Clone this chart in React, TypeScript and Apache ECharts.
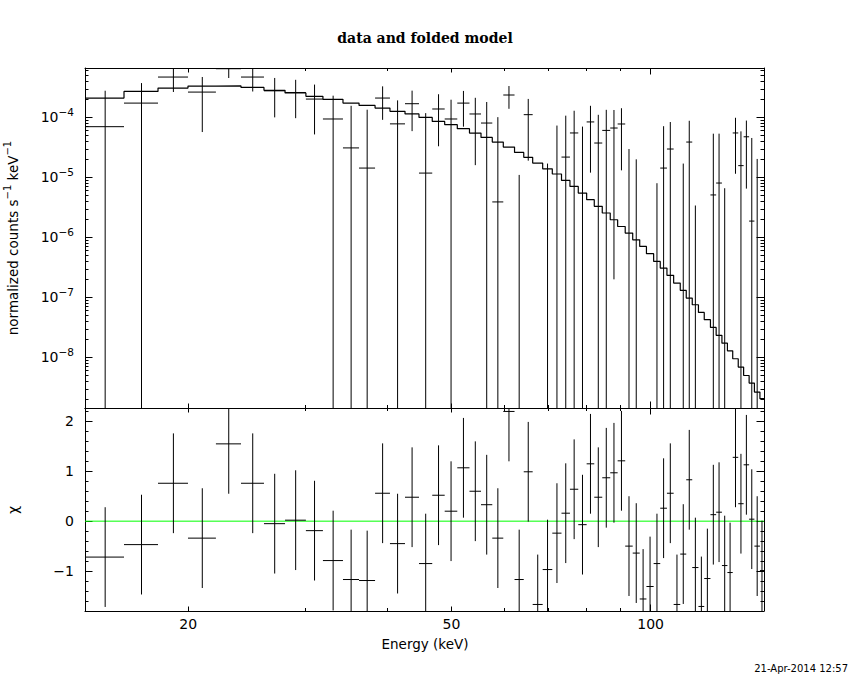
import React, { useEffect, useRef } from "react";
import * as echarts from "echarts";

// ---- data ----
// energy bin edges (keV), 59 bins
const binEdges = [
  13.96, 15.99, 18.0, 19.98, 22.02, 24.03, 26.03, 28.01, 30.12, 31.96,
  34.27, 36.24, 38.32, 40.36, 42.53, 44.65, 46.76, 48.83, 51.02, 53.23,
  55.41, 57.63, 59.88, 62.27, 64.3, 66.33, 68.68, 71.02, 73.33, 75.52,
  77.74, 80.04, 82.19, 84.51, 86.89, 89.16, 91.54, 93.96, 96.28, 98.56,
  101.06, 103.41, 105.85, 108.35, 110.87, 113.21, 115.6, 118.12, 120.53, 123.16,
  125.63, 128.18, 130.66, 133.09, 135.67, 138.24, 140.91, 143.53, 146.31, 148.4,
];

// folded model (normalized counts s^-1 keV^-1)
const modelRate = [
  2.1e-4, 2.71e-4, 3.08e-4, 3.33e-4, 3.35e-4, 3.16e-4, 2.82e-4, 2.55e-4, 2.24e-4, 2.0e-4,
  1.73e-4, 1.58e-4, 1.43e-4, 1.26e-4, 1.14e-4, 1.0e-4, 8.58e-5, 7.55e-5, 6.48e-5, 5.48e-5,
  4.64e-5, 3.88e-5, 3.2e-5, 2.61e-5, 2.16e-5, 1.73e-5, 1.39e-5, 1.14e-5, 8.9e-6, 7.08e-6,
  5.48e-6, 4.25e-6, 3.29e-6, 2.55e-6, 1.97e-6, 1.52e-6, 1.18e-6, 9.1e-7, 7.08e-7, 5.35e-7,
  3.98e-7, 3.08e-7, 2.33e-7, 1.73e-7, 1.31e-7, 9.75e-8, 7.55e-8, 5.62e-8, 4.25e-8, 3.16e-8,
  2.33e-8, 1.73e-8, 1.29e-8, 9.5e-9, 6.9e-9, 5.0e-9, 3.73e-9, 2.64e-9, 2.05e-9,
];

// data values and 1-sigma errors
const dataRate = [
  7.0e-5, 1.73e-4, 4.7e-4, 2.64e-4, 6.47e-4, 4.7e-4, 2.77e-4, 2.6e-4, 2.02e-4, 9.4e-5,
  3.1e-5, 1.43e-5, 2.1e-4, 7.8e-5, 1.69e-4, 1.18e-5, 1.38e-4, 9.4e-5, 1.73e-4, 1.14e-4,
  8.05e-5, 3.9e-6, 2.36e-4, -8.2e-5, 1.11e-4, -1.33e-4, -7.3e-5, -7.9e-6, 2.18e-5, 5.5e-5,
  -8e-7, 8.4e-5, 3.74e-5, 6.07e-5, 6.65e-5, 7.76e-5, -2.73e-5, -3.4e-5, -8.2e-5, -6.75e-5,
  -4.3e-5, 1.43e-5, 2.97e-5, -8.35e-5, -3.2e-5, 3.88e-5, -4.36e-5, -8.0e-5, -5.3e-5, 5.1e-6,
  8.05e-6, -3.84e-5, -4.53e-5, 5.5e-5, 1.57e-5, 4.75e-5, 1.87e-6, -2.0e-5, -4.0e-5,
];
const dataErr = [
  2.08e-4, 2.0e-4, 2.05e-4, 2.07e-4, 1.94e-4, 2.0e-4, 1.77e-4, 1.63e-4, 1.5e-4, 1.36e-4,
  1.25e-4, 1.2e-4, 1.19e-4, 1.14e-4, 1.1e-4, 1.06e-4, 1.05e-4, 1.03e-4, 1.03e-4, 0.98e-4,
  1.0e-4, 0.97e-4, 0.97e-4, 9.3e-5, 9.2e-5, 9.0e-5, 9.0e-5, 8.1e-5, 8.5e-5, 7.4e-5,
  7.1e-5, 7.2e-5, 7.3e-5, 7.3e-5, 6.63e-5, 6.45e-5, 5.7e-5, 5.4e-5, 5.3e-5, 5.2e-5,
  5.1e-5, 5.7e-5, 5.4e-5, 5.0e-5, 4.9e-5, 4.9e-5, 4.7e-5, 4.7e-5, 4.6e-5, 4.84e-5,
  4.55e-5, 4.5e-5, 4.4e-5, 4.35e-5, 4.28e-5, 4.1e-5, 4.35e-5, 4.03e-5, 4.0e-5,
];

// residuals (chi) with unit errors
const chiValues = [
  -0.72, -0.47, 0.76, -0.34, 1.55, 0.76, -0.05, 0.02, -0.19, -0.79,
  -1.17, -1.19, 0.56, -0.45, 0.48, -0.85, 0.52, 0.2, 1.07, 0.6,
  0.33, -0.34, 2.2, -1.17, 0.99, -1.67, -0.97, -0.24, 0.16, 0.64,
  -0.07, 1.15, 0.48, 0.87, 0.97, 1.21, -0.5, -0.64, -1.56, -1.31,
  -0.85, 0.26, 0.56, -1.67, -0.66, 0.83, -0.93, -1.71, -1.15, 0.13,
  0.18, -0.89, -1.03, 1.28, 0.35, 1.13, 0.04, -0.5, -0.99,
];
const chiErr = 1;

// axes
const xLabelTicks = [20, 50];
const xDecadeTicks = [100];
const xMinorTicks = [30, 40, 60, 70, 80, 90];
const xTickLabels = [20, 50, 100];
const yTopMajorExp = [-8, -7, -6, -5, -4];
const chiMajorTicks = [-1, 0, 1, 2];

const X_MIN = Math.log10(13.96);
const X_MAX = Math.log10(148.4);
const YT_MIN = -8.843;
const YT_MAX = -3.177;
const CHI_MIN = -1.801;
const CHI_MAX = 2.269;

const FONT = "DejaVu Sans";
const MINUS = "\u2212";

function buildOption() {
  const nb = binEdges.length - 1;
  const topCross: number[][] = [];
  const chiCross: number[][] = [];
  const modelLine: number[][] = [];
  for (let i = 0; i < nb; i++) {
    const lo = binEdges[i];
    const hi = binEdges[i + 1];
    const mid = (lo + hi) / 2;
    const d = dataRate[i];
    const e = dataErr[i];
    const up = d + e;
    const dn = d - e;
    topCross.push([
      Math.log10(lo), Math.log10(hi), Math.log10(mid),
      d > 0 ? Math.log10(d) : -99,
      dn > 0 ? Math.log10(dn) : -99,
      up > 0 ? Math.log10(up) : -99,
    ]);
    const c = chiValues[i];
    chiCross.push([Math.log10(lo), Math.log10(hi), Math.log10(mid), c, c - chiErr, c + chiErr]);
    modelLine.push([Math.log10(lo), Math.log10(modelRate[i])]);
    modelLine.push([Math.log10(hi), Math.log10(modelRate[i])]);
  }

  const minorLog: number[] = [];
  for (let n = -9; n <= -4; n++) {
    for (let k = 2; k <= 9; k++) {
      const v = n + Math.log10(k);
      if (v > YT_MIN && v < YT_MAX) minorLog.push(v);
    }
  }
  const chiMinor: number[] = [];
  for (let t = -18; t <= 22; t += 2) {
    if (t % 10 !== 0) chiMinor.push(t / 10);
  }

  const black = { color: "#000", width: 1 };
  const xAx = (grid: number, pos: string, ticks: number[], len: number, line: boolean, labels: boolean) => ({
    type: "value",
    gridIndex: grid,
    position: pos,
    min: X_MIN,
    max: X_MAX,
    axisLine: { show: line, onZero: false, lineStyle: black },
    axisTick: { show: true, inside: true, length: len, customValues: ticks.map(Math.log10), lineStyle: black },
    axisLabel: labels
      ? {
          show: true,
          customValues: xTickLabels.map(Math.log10),
          formatter: (v: number) => String(Math.round(Math.pow(10, v))),
          margin: 6,
          color: "#000",
          fontFamily: FONT,
          fontSize: 14,
        }
      : { show: false },
    splitLine: { show: false },
    minorTick: { show: false },
    silent: true,
  });
  const yAx = (grid: number, pos: string, min: number, max: number, ticks: number[], len: number, line: boolean, labels: any) => ({
    type: "value",
    gridIndex: grid,
    position: pos,
    min,
    max,
    axisLine: { show: line, onZero: false, lineStyle: black },
    axisTick: { show: true, inside: true, length: len, customValues: ticks, lineStyle: black },
    axisLabel: labels || { show: false },
    splitLine: { show: false },
    minorTick: { show: false },
    silent: true,
  });

  const xAxis: any[] = [];
  for (let g = 0; g < 2; g++) {
    xAxis.push(xAx(g, "bottom", xLabelTicks, 4.5, true, g === 1));
    xAxis.push(xAx(g, "bottom", xDecadeTicks, 6.5, false, false));
    xAxis.push(xAx(g, "bottom", xMinorTicks, 3, false, false));
    xAxis.push(xAx(g, "top", xLabelTicks, 4.5, true, false));
    xAxis.push(xAx(g, "top", xDecadeTicks, 6.5, false, false));
    xAxis.push(xAx(g, "top", xMinorTicks, 3, false, false));
  }

  const supRich = {
    b: { fontSize: 14, fontFamily: FONT, color: "#000", lineHeight: 22 },
    s: { fontSize: 10.5, fontFamily: FONT, color: "#000", lineHeight: 10, verticalAlign: "top" },
  };
  const topLabels = {
    show: true,
    customValues: yTopMajorExp,
    formatter: (v: number) => `{b|10}{s|${MINUS}${Math.abs(Math.round(v))}}`,
    margin: 11,
    color: "#000",
    fontFamily: FONT,
    fontSize: 14,
    rich: supRich,
  };
  const chiLabels = {
    show: true,
    customValues: chiMajorTicks,
    formatter: (v: number) => (v < 0 ? MINUS + Math.abs(v) : String(v)),
    margin: 11,
    color: "#000",
    fontFamily: FONT,
    fontSize: 14,
  };
  const yAxis: any[] = [
    yAx(0, "left", YT_MIN, YT_MAX, yTopMajorExp, 7.5, true, topLabels),
    yAx(0, "left", YT_MIN, YT_MAX, minorLog, 3.5, false, null),
    yAx(0, "right", YT_MIN, YT_MAX, yTopMajorExp, 7.5, true, null),
    yAx(0, "right", YT_MIN, YT_MAX, minorLog, 3.5, false, null),
    yAx(1, "left", CHI_MIN, CHI_MAX, chiMajorTicks, 7.5, true, chiLabels),
    yAx(1, "left", CHI_MIN, CHI_MAX, chiMinor, 3.5, false, null),
    yAx(1, "right", CHI_MIN, CHI_MAX, chiMajorTicks, 7.5, true, null),
    yAx(1, "right", CHI_MIN, CHI_MAX, chiMinor, 3.5, false, null),
  ];

  const crossRenderer = (ymin: number, ymax: number) => (params: any, api: any) => {
    const xl = api.value(0);
    const xh = api.value(1);
    const xc = api.value(2);
    const yv = api.value(3);
    const yl = api.value(4);
    const yh = api.value(5);
    const cl = (v: number) => Math.min(Math.max(v, ymin), ymax);
    const style = { stroke: "#000", lineWidth: 1, fill: null };
    const children: any[] = [];
    if (yh > ymin) {
      const a = api.coord([xc, cl(yh)]);
      const b = api.coord([xc, cl(yl)]);
      children.push({ type: "line", shape: { x1: a[0], y1: a[1], x2: b[0], y2: b[1] }, style });
    }
    if (yv > ymin && yv < ymax) {
      const a = api.coord([xl, yv]);
      const b = api.coord([xh, yv]);
      children.push({ type: "line", shape: { x1: a[0], y1: a[1], x2: b[0], y2: b[1] }, style });
    }
    return { type: "group", children };
  };

  const series: any[] = [
    {
      type: "line",
      xAxisIndex: 0,
      yAxisIndex: 0,
      data: modelLine,
      showSymbol: false,
      symbol: "none",
      lineStyle: { color: "#000", width: 1.2 },
      silent: true,
      clip: true,
      z: 3,
    },
    {
      type: "custom",
      xAxisIndex: 0,
      yAxisIndex: 0,
      data: topCross,
      encode: { x: [0, 1, 2], y: [3, 4, 5] },
      renderItem: crossRenderer(YT_MIN, YT_MAX),
      silent: true,
      z: 4,
    },
    {
      type: "line",
      xAxisIndex: 6,
      yAxisIndex: 4,
      data: [[X_MIN, 0], [X_MAX, 0]],
      showSymbol: false,
      symbol: "none",
      lineStyle: { color: "#00ff00", width: 1 },
      silent: true,
      z: 2,
    },
    {
      type: "custom",
      xAxisIndex: 6,
      yAxisIndex: 4,
      data: chiCross,
      encode: { x: [0, 1, 2], y: [3, 4, 5] },
      renderItem: crossRenderer(CHI_MIN, CHI_MAX),
      silent: true,
      z: 4,
    },
  ];

  const txt = (x: number, y: number, text: string, font: string, align: string, rot = 0, rich?: any) => ({
    type: "text",
    x,
    y,
    rotation: rot,
    silent: true,
    style: {
      text,
      font,
      fill: "#000",
      align,
      verticalAlign: "middle",
      textAlign: align,
      textVerticalAlign: "middle",
      ...(rich ? { rich } : {}),
    },
  });

  const nameRich = {
    a: { fontSize: 13.5, fontFamily: FONT, fill: "#000", color: "#000", lineHeight: 22 },
    s: { fontSize: 10, fontFamily: FONT, fill: "#000", color: "#000", lineHeight: 10, verticalAlign: "top" },
  };

  return {
    animation: false,
    backgroundColor: "#ffffff",
    grid: [
      { left: 85, top: 68, width: 679, height: 340 },
      { left: 85, top: 408, width: 679, height: 203 },
    ],
    xAxis,
    yAxis,
    series,
    graphic: [
      txt(425, 38, "data and folded model", "bold 14px 'DejaVu Serif'", "center"),
      txt(
        13,
        238,
        `{a|normalized counts s}{s|${MINUS}1}{a| keV}{s|${MINUS}1}`,
        `13.5px '${FONT}'`,
        "center",
        Math.PI / 2,
        nameRich
      ),
      txt(13, 510, "χ", `14px '${FONT}'`, "center", Math.PI / 2),
      txt(425, 644, "Energy (keV)", `13.5px '${FONT}'`, "center"),
      txt(848, 668, "21-Apr-2014 12:57", `10px '${FONT}'`, "right"),
    ],
  };
}

export default function App() {
  const ref = useRef<HTMLDivElement>(null);
  useEffect(() => {
    if (!ref.current) return;
    const chart = echarts.init(ref.current, undefined, { renderer: "svg" });
    chart.setOption(buildOption() as any);
    return () => chart.dispose();
  }, []);
  return (
    <div
      ref={ref}
      style={{ position: "fixed", left: 0, top: 0, width: 850, height: 680, background: "#fff" }}
    />
  );
}
